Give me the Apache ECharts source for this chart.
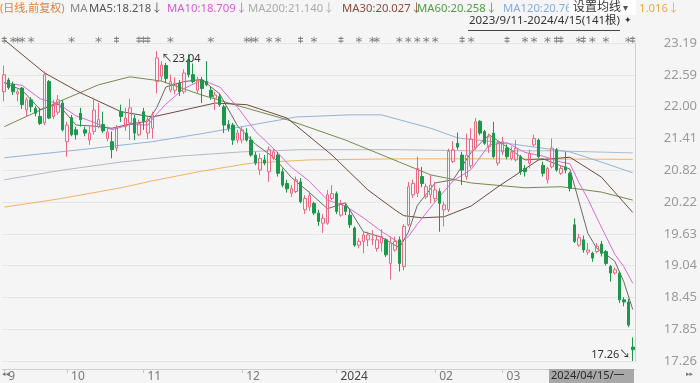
<!DOCTYPE html>
<html><head><meta charset="utf-8">
<script src="https://cdn.jsdelivr.net/npm/echarts@6/dist/echarts.min.js"></script>
<style>html,body{margin:0;padding:0;background:#f5f5f5}#c{width:700px;height:383px}</style>
</head><body><div id="c"></div>
<script>
// ---- data (2023/9/11 - 2024/4/15, 141 bars) ----
const monthStarts = [0, 14, 31, 53, 74, 96, 111];
const monthLabels = ['9', '10', '11', '12', '2024', '02', '03'];

const openP = [22.28,22.50,22.42,22.24,22.35,21.94,22.13,21.97,21.82,21.70,
22.47,21.82,21.90,22.07,21.35,21.80,21.57,21.88,21.57,21.38,
21.54,21.63,21.67,21.41,21.35,21.23,21.91,21.63,21.70,21.78,
21.48,21.91,21.51,21.60,22.47,22.57,22.77,22.31,22.31,22.44,
22.28,22.88,22.60,22.31,22.50,22.47,22.31,22.16,22.19,22.00,
21.67,21.66,21.38,21.38,21.51,21.38,21.10,20.82,21.01,20.79,
21.04,21.10,20.79,20.57,20.39,20.42,20.60,20.08,20.13,20.20,
20.02,19.83,19.83,20.29,20.38,19.98,20.15,19.98,19.74,19.42,
19.49,19.52,19.52,19.36,19.46,19.52,19.08,19.33,19.52,19.02,
19.80,20.36,20.39,20.70,20.32,20.36,20.29,20.42,20.08,20.08,
20.98,21.32,21.10,20.70,20.90,21.23,21.73,21.54,21.26,21.51,
20.95,21.16,21.23,21.04,21.01,21.07,20.85,20.95,21.29,21.38,
20.91,20.64,20.88,21.20,20.76,20.88,20.76,19.80,19.42,19.52,
19.29,19.27,19.30,19.44,19.30,19.02,18.90,18.90,18.40,18.36,
17.52];
const closeP = [22.60,22.36,22.28,22.28,22.04,22.13,22.00,21.88,21.69,22.60,
21.79,22.04,22.13,21.57,21.66,21.48,21.48,21.76,21.51,21.51,
21.94,21.76,21.55,21.53,21.20,21.61,21.82,21.79,21.98,21.51,
21.69,21.73,21.76,21.85,22.91,22.78,22.53,22.47,22.44,22.28,
22.63,22.60,22.47,22.50,22.34,22.41,22.19,22.22,22.04,21.66,
21.60,21.38,21.51,21.57,21.38,21.10,20.95,21.04,20.95,21.20,
21.16,20.76,20.54,20.47,20.48,20.64,20.23,20.29,20.35,20.02,
19.86,19.92,20.36,20.38,20.05,20.20,20.05,19.80,19.42,19.49,
19.61,19.61,19.53,19.52,19.58,19.24,19.46,19.49,19.08,19.77,
20.51,20.57,20.85,20.57,20.51,20.54,20.45,20.20,20.17,21.17,
21.20,21.25,20.82,21.10,21.40,21.72,21.51,21.32,21.44,21.07,
21.32,21.35,21.07,21.16,21.23,20.79,20.79,21.13,21.41,21.07,
20.76,20.85,21.23,20.82,20.85,20.82,20.48,19.49,19.56,19.33,
19.33,19.18,19.40,19.27,19.08,18.90,18.96,18.40,18.36,17.93,
17.47];
const lowP = [22.10,22.32,22.22,22.10,21.96,21.82,21.90,21.82,21.66,21.66,
21.77,21.77,21.85,21.54,21.07,21.45,21.39,21.63,21.45,21.29,
21.48,21.60,21.51,21.35,21.04,21.17,21.72,21.55,21.38,21.38,
21.45,21.57,21.40,21.41,22.25,22.48,22.44,22.27,22.23,22.20,
22.24,22.55,22.44,22.25,22.07,22.38,22.13,21.94,22.00,21.51,
21.54,21.29,21.32,21.32,21.35,21.07,20.91,20.73,20.91,20.60,
21.00,20.70,20.50,20.40,20.32,20.39,20.20,20.00,20.06,19.98,
19.78,19.65,19.80,20.26,20.00,19.95,19.98,19.74,19.39,19.36,
19.27,19.40,19.42,19.30,19.30,19.20,18.78,19.30,18.93,18.95,
19.77,20.30,20.32,20.50,20.28,20.20,20.22,19.67,19.77,20.04,
20.95,21.20,20.54,20.64,20.85,21.20,21.47,21.29,21.14,21.04,
20.90,21.10,21.02,21.00,20.98,20.73,20.70,20.85,21.26,21.04,
20.70,20.57,20.85,20.79,20.73,20.76,20.42,19.46,19.39,19.28,
19.24,19.11,19.27,19.21,19.04,18.74,18.87,18.34,18.28,17.89,
17.26];
const highP = [22.77,22.54,22.47,22.33,22.37,22.18,22.18,22.01,21.98,22.66,
22.50,22.13,22.22,22.13,21.72,21.85,21.63,21.98,21.63,21.63,
22.17,22.07,21.91,21.63,21.54,21.66,22.04,21.98,22.15,21.85,
21.76,21.98,21.82,21.91,23.04,22.85,22.82,22.60,22.55,22.50,
22.70,22.98,22.81,22.56,22.56,22.85,22.38,22.28,22.25,22.04,
21.75,21.70,21.57,21.63,21.60,21.45,21.16,21.13,21.10,21.26,
21.22,21.16,20.85,20.64,20.54,20.70,20.67,20.35,20.42,20.23,
20.08,20.00,20.45,20.54,20.42,20.26,20.20,20.10,19.77,19.55,
19.67,19.67,19.70,19.60,19.72,19.55,19.58,19.58,19.58,19.81,
20.60,20.64,21.07,20.88,20.57,20.73,20.60,20.48,20.23,21.22,
21.36,21.52,21.16,21.50,21.60,21.79,21.75,21.57,21.50,21.72,
21.38,21.44,21.30,21.26,21.38,21.10,20.91,21.20,21.48,21.41,
20.98,20.88,21.41,21.23,20.91,21.16,20.79,19.92,19.63,19.60,
19.46,19.30,19.46,19.50,19.33,19.05,19.00,18.93,18.45,18.42,
17.70];

// moving-average lines, read at sampled bars: [bar index, value]
const ma5 = [[0,22.45],[4,22.31],[8,21.95],[12,22.05],[16,21.66],[20,21.64],[24,21.60],[28,21.68],[32,21.73],[34,21.99],[36,22.37],[40,22.47],[44,22.51],[48,22.24],[52,21.64],[56,21.30],[60,21.06],[64,20.68],[68,20.40],[72,20.10],[76,20.21],[80,19.67],[84,19.57],[88,19.37],[90,19.66],[92,20.16],[96,20.58],[100,20.64],[104,21.15],[108,21.48],[112,21.25],[116,21.01],[120,21.03],[124,20.90],[126,20.84],[128,20.24],[130,19.64],[132,19.36],[134,19.25],[136,19.12],[138,18.74],[140,18.22]];
const ma10 = [[0,22.45],[4,22.40],[8,22.15],[12,22.06],[16,21.83],[20,21.71],[24,21.57],[28,21.67],[32,21.66],[34,21.87],[36,22.05],[40,22.34],[44,22.50],[48,22.37],[52,21.99],[56,21.54],[60,21.22],[64,20.87],[68,20.61],[72,20.26],[76,20.15],[80,19.93],[84,19.68],[88,19.46],[90,19.58],[92,19.81],[96,20.23],[100,20.62],[104,20.83],[108,21.29],[112,21.33],[116,21.15],[120,21.08],[124,20.97],[126,20.94],[128,20.59],[130,20.28],[132,19.93],[134,19.59],[136,19.25],[138,19.02],[140,18.71]];
const ma30 = [[0,23.25],[9,22.63],[17,22.26],[26,21.91],[33,21.81],[40,21.94],[47,22.07],[54,22.04],[63,21.79],[73,21.10],[81,20.45],[87,20.08],[89,19.97],[93,19.93],[98,19.95],[104,20.15],[110,20.51],[119,21.01],[126,21.06],[133,20.69],[140,20.03]];
const ma60 = [[0,21.63],[12,22.09],[21,22.41],[28,22.56],[35,22.48],[44,22.22],[50,22.07],[63,21.76],[76,21.38],[88,20.97],[95,20.73],[104,20.58],[116,20.49],[124,20.51],[133,20.41],[140,20.26]];
const ma120 = [[0,21.05],[17,21.20],[33,21.35],[44,21.50],[53,21.63],[65,21.81],[77,21.85],[84,21.85],[95,21.60],[101,21.42],[111,21.33],[126,21.16],[133,20.97],[140,20.77]];
const ma200 = [[0,20.64],[13,20.82],[26,20.97],[39,21.08],[53,21.16],[66,21.20],[88,21.20],[104,21.18],[122,21.18],[140,21.14]];
const ma250 = [[0,20.13],[12,20.28],[26,20.49],[33,20.62],[44,20.80],[55,20.95],[68,21.01],[88,21.03],[110,21.03],[140,21.02]];

const yTickLabels = ['17.26','17.85','18.45','19.04','19.63','20.22','20.82','21.41','22.00','22.59','23.19'];
const starIdx = [2,3,4,6,15,21,37,46,54,55,56,59,61,69,79,82,83,88,90,92,94,96,104,116,118,121,128,131,134,139];
const barMarkIdx = [0,25,30,31,32,66,75,102,112,123,124,129,140];
const legendTexts = ['(日线,前复权)','MA','MA5:18.218↓','MA10:18.709↓','MA200:21.140↓','MA30:20.027↓','MA60:20.258↓','MA120:20.768↓','1.016↓'];
const highLabel = '23.04', lowLabel = '17.26';
const rangeText = '2023/9/11-2024/4/15(141根)';
const lastDateText = '2024/04/15/一';

// ---- chart ----
const FONT = '"Noto Sans", "Noto Sans CJK SC", sans-serif';
const N = openP.length;
const categories = Array.from({length: N}, (_, i) => String(i));
const kData = openP.map((o, i) => [o, closeP[i], lowP[i], highP[i]]);
const yMin = 17.26, yStep = 0.593;

const legendX = [0, 70, 89, 167, 248, 342, 417, 503, 639];
const legendColors = ['#de7f3b','#888888','#555555','#d95cd3','#aaaaaa','#8c4a3a','#4f9e44','#86ace0','#f0a848'];

const graphics = legendTexts.map((t, k) => ({
  type: 'text', left: legendX[k], top: 3, z: 10,
  style: {text: t, fill: legendColors[k], font: (k === 0 ? '11px ' : '11.3px ') + FONT}
}));
graphics.push({type: 'rect', shape: {x: 569, y: 0, width: 67, height: 15}, style: {fill: '#ffffff'}, z: 11});
graphics.push({type: 'text', left: 573, top: 2, z: 12, style: {text: '设置均线', fill: '#333', font: '12px ' + FONT}});
graphics.push({type: 'text', left: 623, top: 3, z: 12, style: {text: '▾', fill: '#555', font: '10px ' + FONT}});
graphics.push({type: 'text', right: 80, top: 15, z: 12, style: {text: rangeText, fill: '#333', font: '11.5px ' + FONT}});
graphics.push({type: 'line', shape: {x1: 468, y1: 30.5, x2: 620, y2: 30.5}, style: {stroke: '#444', lineWidth: 1}, z: 12});
graphics.push({type: 'text', left: 624, top: 16, z: 12, style: {text: '✦', fill: '#333', font: '9px "DejaVu Sans"'}});
graphics.push({type: 'rect', shape: {x: 549, y: 369, width: 85, height: 14}, style: {fill: '#a8a8a8'}, z: 10});
graphics.push({type: 'text', left: 551, top: 370, z: 11, style: {text: lastDateText, fill: '#2b2b2b', font: '11px ' + FONT}});
graphics.push({type: 'text', left: 2, top: 371, z: 10, style: {text: '◂◂', fill: '#777', font: '7px "DejaVu Sans"'}});
graphics.push({type: 'text', left: 686, top: 371, z: 10, style: {text: '▸▸', fill: '#777', font: '7px "DejaVu Sans"'}});

function maLine(name, data, color) {
  return {name, type: 'line', data, showSymbol: false, connectNulls: true, clip: false, silent: true,
    lineStyle: {color, width: 1}, z: 2, animation: false};
}

const option = {
  animation: false,
  backgroundColor: '#f5f5f5',
  textStyle: {fontFamily: FONT},
  grid: {left: 2, right: 65, top: 43, bottom: 22},
  xAxis: {
    type: 'category', data: categories, boundaryGap: true, offset: 8,
    axisLine: {show: true, lineStyle: {color: '#cfcfcf'}},
    axisTick: {show: true, alignWithLabel: true, length: 4, lineStyle: {color: '#c8c8c8'},
      interval: (i) => monthStarts.indexOf(i) >= 0},
    axisLabel: {
      interval: (i) => monthStarts.indexOf(i) >= 0,
      formatter: (v, i) => { const k = monthStarts.indexOf(Number(v)); if (k < 0) return ''; const s = monthLabels[k]; return s === '2024' ? '{b|' + s + '}' : s; },
      align: 'left', color: '#777', fontSize: 12, margin: 2, padding: [0, 0, 0, 4],
      rich: {b: {color: '#444', fontSize: 12}}
    },
    splitLine: {show: false}
  },
  yAxis: {
    type: 'value', position: 'right', min: yMin, max: 23.19, interval: yStep,
    axisLine: {show: true, lineStyle: {color: '#d0d0d0'}},
    axisTick: {show: false},
    splitLine: {show: true, lineStyle: {color: '#e6e6e6'}},
    axisLabel: {color: '#9a9a9a', fontSize: 13, align: 'right', margin: 62,
      formatter: (v) => yTickLabels[Math.round((v - yMin) / yStep)] || ''}
  },
  graphic: graphics,
  series: [
    maLine('MA250', ma250, '#f2b462'),
    maLine('MA200', ma200, '#b4bac6'),
    maLine('MA120', ma120, '#92b3da'),
    maLine('MA60', ma60, '#768a4c'),
    maLine('MA30', ma30, '#6e4a40'),
    maLine('MA10', ma10, '#dd6ad8'),
    maLine('MA5', ma5, '#6a6a6a'),
    {
      type: 'candlestick', data: kData, barWidth: 3, z: 3, clip: false,
      itemStyle: {color: 'rgba(0,0,0,0)', color0: '#1b984a', borderColor: '#ea6a80', borderColor0: '#1b984a', borderWidth: 1},
      markPoint: {
        silent: true, animation: false,
        data: [
          {coord: [34, 23.04], symbol: 'circle', symbolSize: 1, itemStyle: {color: 'rgba(0,0,0,0)'},
           label: {show: true, position: 'right', distance: 4, offset: [0, 8], formatter: '↖' + highLabel, color: '#333', fontSize: 11}},
          {coord: [140, 17.26], symbol: 'circle', symbolSize: 1, itemStyle: {color: 'rgba(0,0,0,0)'},
           label: {show: true, position: 'left', distance: 2, offset: [0, -6], formatter: lowLabel + '↘', color: '#333', fontSize: 11}}
        ]
      }
    },
    {
      type: 'scatter', data: starIdx.map(i => [i, 23.25]), clip: false, silent: true, z: 4,
      symbol: 'path://M5,0V10M0.7,2.5L9.3,7.5M0.7,7.5L9.3,2.5', symbolSize: 6,
      itemStyle: {color: 'rgba(0,0,0,0)', borderColor: '#777', borderWidth: 1}
    },
    {
      type: 'scatter', data: barMarkIdx.map(i => [i, 23.25]), clip: false, silent: true, z: 4,
      symbol: 'path://M5,0V10M2,3H8M2,7H8', symbolSize: [5, 7],
      itemStyle: {color: 'rgba(0,0,0,0)', borderColor: '#666', borderWidth: 1}
    }
  ]
};

const chart = echarts.init(document.getElementById('c'), null, {renderer: 'canvas'});
chart.setOption(option);
</script>
</body></html>
